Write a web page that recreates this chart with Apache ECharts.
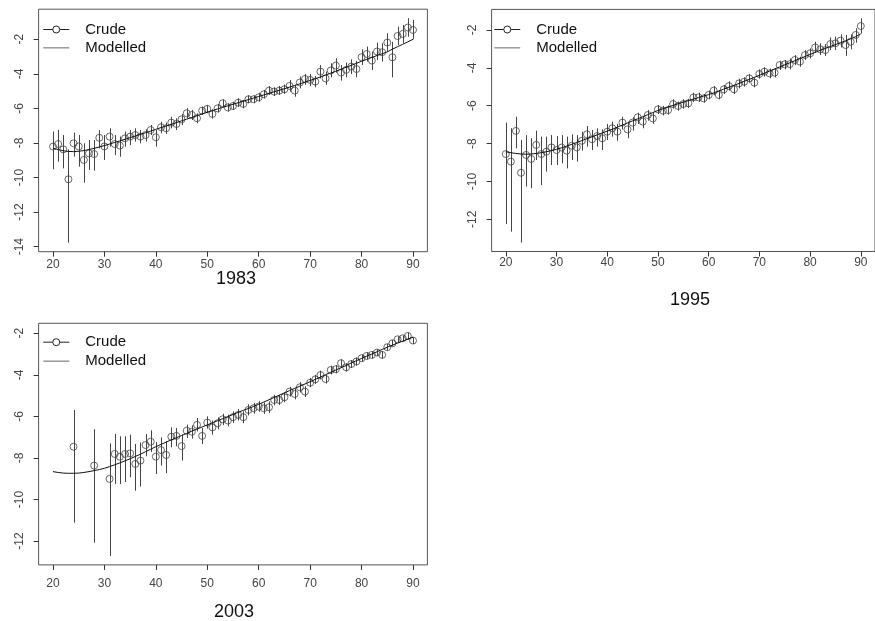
<!DOCTYPE html>
<html>
<head>
<meta charset="utf-8">
<title>Crude and modelled rates</title>
<script src="https://cdn.jsdelivr.net/npm/echarts/dist/echarts.min.js"></script>
<style>
  html, body { margin: 0; padding: 0; background: #fff; }
  #main { width: 875px; height: 621px; }
</style>
</head>
<body>
<div id="main"></div>
<script>
var ages = [20,21,22,23,24,25,26,27,28,29,30,31,32,33,34,35,36,37,38,39,40,41,42,43,44,45,46,47,48,49,
  50,51,52,53,54,55,56,57,58,59,60,61,62,63,64,65,66,67,68,69,70,71,72,73,74,75,76,77,78,79,
  80,81,82,83,84,85,86,87,88,89,90];
var xTicks = [20, 30, 40, 50, 60, 70, 80, 90];

// 1983
var crude83 = [-8.21,-8.06,-8.37,-10.1,-8.02,-8.2,-8.98,-8.6,-8.64,-7.7,
  -8.2,-7.63,-8.06,-8.15,-7.73,-7.63,-7.54,-7.63,-7.54,-7.25,
  -7.67,-7.09,-7.15,-6.82,-6.9,-6.63,-6.28,-6.38,-6.57,-6.13,
  -6.03,-6.32,-6.0,-5.7,-5.94,-5.86,-5.67,-5.74,-5.47,-5.47,
  -5.36,-5.18,-4.97,-5.03,-4.97,-4.89,-4.7,-4.97,-4.5,-4.3,
  -4.35,-4.45,-3.87,-4.26,-3.81,-3.52,-3.93,-3.77,-3.58,-3.72,
  -3.04,-2.85,-3.23,-2.71,-2.75,-2.19,-3.04,-1.81,-1.69,-1.32,
  -1.46];
var hi83 = [-7.34,-7.25,-7.54,-8.37,-7.4,-7.54,-8.02,-7.83,-7.83,-7.25,
  -7.54,-7.15,-7.54,-7.63,-7.34,-7.25,-7.15,-7.25,-7.21,-6.96,
  -7.25,-6.77,-6.82,-6.48,-6.57,-6.32,-5.99,-6.09,-6.28,-5.9,
  -5.8,-6.05,-5.74,-5.47,-5.7,-5.61,-5.41,-5.51,-5.24,-5.24,
  -5.09,-4.93,-4.7,-4.78,-4.7,-4.62,-4.35,-4.64,-4.16,-4.01,
  -4.01,-4.12,-3.49,-3.87,-3.39,-3.1,-3.49,-3.35,-3.16,-3.25,
  -2.58,-2.42,-2.71,-2.19,-2.23,-1.65,-2.14,-1.27,-1.17,-0.78,
  -0.88];
var lo83 = [-9.52,-9.08,-9.47,-13.77,-8.79,-9.37,-10.3,-9.56,-9.6,-8.31,
  -8.98,-8.21,-8.7,-8.79,-8.21,-8.12,-7.92,-8.02,-7.92,-7.54,
  -8.21,-7.44,-7.48,-7.15,-7.25,-6.96,-6.57,-6.67,-6.86,-6.38,
  -6.28,-6.59,-6.24,-5.94,-6.19,-6.09,-5.9,-5.99,-5.7,-5.7,
  -5.61,-5.43,-5.22,-5.28,-5.22,-5.16,-5.03,-5.32,-4.84,-4.64,
  -4.7,-4.78,-4.26,-4.64,-4.2,-3.93,-4.39,-4.2,-4.01,-4.2,
  -3.49,-3.29,-3.78,-3.2,-3.29,-2.71,-4.2,-2.33,-2.23,-1.85,
  -2.0];
var model83 = [-8.30,-8.38,-8.45,-8.49,-8.50,-8.48,-8.44,-8.38,-8.31,-8.23,
  -8.15,-8.06,-7.97,-7.88,-7.79,-7.69,-7.60,-7.50,-7.41,-7.31,
  -7.21,-7.11,-7.02,-6.92,-6.82,-6.72,-6.62,-6.52,-6.42,-6.32,
  -6.22,-6.13,-6.03,-5.94,-5.85,-5.76,-5.67,-5.58,-5.49,-5.40,
  -5.31,-5.22,-5.13,-5.04,-4.95,-4.86,-4.77,-4.67,-4.58,-4.48,
  -4.38,-4.28,-4.18,-4.07,-3.96,-3.85,-3.74,-3.62,-3.51,-3.39,
  -3.27,-3.16,-3.05,-2.94,-2.84,-2.73,-2.57,-2.43,-2.29,-2.15,
  -2.00];

// 1995
var crude95 = [-8.55,-8.95,-7.33,-9.54,-8.6,-8.81,-8.07,-8.55,-8.43,-8.2,
  -8.34,-8.21,-8.37,-8.11,-8.2,-7.85,-7.51,-7.77,-7.6,-7.72,
  -7.37,-7.19,-7.37,-6.89,-7.25,-6.89,-6.61,-6.84,-6.49,-6.67,
  -6.19,-6.26,-6.23,-5.91,-6.01,-5.91,-5.87,-5.56,-5.56,-5.61,
  -5.43,-5.2,-5.43,-5.13,-4.96,-5.13,-4.82,-4.73,-4.55,-4.78,
  -4.32,-4.2,-4.29,-4.25,-3.85,-3.81,-3.8,-3.58,-3.67,-3.32,
  -3.23,-2.92,-3.02,-3.06,-2.74,-2.7,-2.56,-2.79,-2.62,-2.26,
  -1.79];
var hi95 = [-6.89,-7.19,-6.58,-7.81,-7.55,-7.72,-7.32,-7.63,-7.63,-7.55,
  -7.6,-7.55,-7.63,-7.51,-7.55,-7.37,-7.07,-7.28,-7.19,-7.25,
  -6.96,-6.84,-6.96,-6.58,-6.84,-6.61,-6.37,-6.54,-6.23,-6.37,
  -5.96,-6.01,-5.98,-5.66,-5.79,-5.66,-5.63,-5.31,-5.31,-5.38,
  -5.2,-4.96,-5.17,-4.9,-4.71,-4.89,-4.57,-4.5,-4.32,-4.5,
  -4.08,-3.97,-4.04,-4.01,-3.62,-3.58,-3.5,-3.32,-3.41,-3.06,
  -2.97,-2.62,-2.7,-2.74,-2.39,-2.35,-2.23,-2.26,-2.23,-1.91,
  -1.38];
var lo95 = [-12.25,-12.65,-8.25,-13.23,-10.27,-10.36,-8.87,-10.19,-9.48,-9.13,
  -9.13,-9.04,-9.31,-8.87,-8.95,-8.37,-8.16,-8.34,-8.16,-8.34,
  -7.81,-7.63,-7.85,-7.25,-7.72,-7.32,-6.96,-7.19,-6.79,-6.96,
  -6.44,-6.51,-6.47,-6.15,-6.26,-6.15,-6.12,-5.8,-5.8,-5.84,
  -5.66,-5.45,-5.66,-5.38,-5.2,-5.38,-5.08,-4.99,-4.78,-5.03,
  -4.57,-4.46,-4.54,-4.5,-4.11,-4.08,-4.08,-3.85,-3.94,-3.58,
  -3.5,-3.2,-3.32,-3.37,-3.06,-3.06,-2.92,-3.37,-3.02,-2.67,
  -2.18];
var model95 = [-8.43,-8.48,-8.52,-8.55,-8.56,-8.55,-8.52,-8.48,-8.43,-8.37,
  -8.30,-8.22,-8.13,-8.04,-7.94,-7.84,-7.74,-7.64,-7.54,-7.44,
  -7.34,-7.24,-7.13,-7.02,-6.91,-6.80,-6.69,-6.58,-6.47,-6.36,
  -6.25,-6.16,-6.07,-5.98,-5.89,-5.81,-5.73,-5.65,-5.57,-5.49,
  -5.41,-5.32,-5.22,-5.12,-5.02,-4.92,-4.82,-4.71,-4.61,-4.50,
  -4.39,-4.28,-4.17,-4.06,-3.95,-3.84,-3.73,-3.62,-3.51,-3.40,
  -3.29,-3.18,-3.07,-2.97,-2.87,-2.77,-2.67,-2.57,-2.46,-2.35,
  -2.20];

// 2003 (no crude rate at some young ages)
var crude03 = [null,null,null,null,-7.46,null,null,null,-8.37,null,
  null,-9.01,-7.81,-7.94,-7.81,-7.78,-8.29,-8.13,-7.38,-7.22,
  -7.94,-7.62,-7.86,-6.98,-6.94,-7.43,-6.69,-6.74,-6.41,-6.94,
  -6.3,-6.53,-6.33,-6.14,-6.2,-6.04,-5.93,-6.04,-5.69,-5.61,
  -5.53,-5.61,-5.56,-5.21,-5.21,-5.08,-4.81,-4.92,-4.6,-4.81,
  -4.38,-4.22,-4.01,-4.2,-3.77,-3.73,-3.44,-3.64,-3.48,-3.36,
  -3.2,-3.09,-3.04,-2.93,-3.04,-2.67,-2.48,-2.29,-2.24,-2.13,
  -2.35];
var hi03 = [null,null,null,null,-5.69,null,null,null,-6.62,null,
  null,-7.3,-6.85,-6.96,-6.96,-6.88,-7.33,-7.26,-6.85,-6.67,
  -7.23,-7.01,-7.2,-6.53,-6.56,-6.88,-6.4,-6.43,-6.08,-6.56,
  -6.0,-6.2,-6.05,-5.87,-5.92,-5.76,-5.65,-5.76,-5.42,-5.35,
  -5.27,-5.33,-5.28,-4.96,-4.97,-4.84,-4.58,-4.65,-4.35,-4.55,
  -4.15,-4.0,-3.8,-3.98,-3.56,-3.53,-3.25,-3.44,-3.29,-3.17,
  -3.02,-2.92,-2.87,-2.77,-2.87,-2.51,-2.33,-2.15,-2.1,-1.97,
  -2.2];
var lo03 = [null,null,null,null,-11.12,null,null,null,-12.08,null,
  null,-12.72,-9.26,-9.26,-9.16,-8.93,-9.58,-9.38,-7.92,-7.72,
  -8.77,-8.37,-8.73,-7.49,-7.44,-8.13,-7.04,-7.07,-6.72,-7.33,
  -6.59,-6.88,-6.62,-6.42,-6.48,-6.32,-6.2,-6.33,-5.95,-5.87,
  -5.78,-5.88,-5.84,-5.46,-5.45,-5.32,-5.05,-5.18,-4.85,-5.07,
  -4.6,-4.44,-4.22,-4.42,-3.98,-3.93,-3.63,-3.84,-3.67,-3.55,
  -3.38,-3.26,-3.21,-3.09,-3.21,-2.83,-2.63,-2.43,-2.38,-2.29,
  -2.52];
var model03 = [-8.66,-8.70,-8.73,-8.74,-8.74,-8.73,-8.70,-8.66,-8.61,-8.56,
  -8.50,-8.42,-8.33,-8.24,-8.14,-8.04,-7.93,-7.82,-7.70,-7.58,
  -7.46,-7.35,-7.24,-7.13,-7.03,-6.92,-6.82,-6.71,-6.61,-6.51,
  -6.41,-6.31,-6.21,-6.11,-6.01,-5.91,-5.81,-5.71,-5.62,-5.52,
  -5.42,-5.31,-5.20,-5.09,-4.98,-4.87,-4.76,-4.65,-4.55,-4.44,
  -4.33,-4.22,-4.11,-3.99,-3.88,-3.77,-3.66,-3.55,-3.43,-3.32,
  -3.21,-3.10,-3.00,-2.89,-2.78,-2.67,-2.57,-2.47,-2.38,-2.28,
  -2.19];

var years = ['1983', '1995', '2003'];

var font = 'Liberation Sans, Arial, sans-serif';
// legend keys drawn like R's legend(): "-o-" and a plain line
var crudeIcon = 'path://M0 3.5 H9.5 M16.5 3.5 H26 M9.5 3.5 A3.5 3.5 0 1 1 16.5 3.5 A3.5 3.5 0 1 1 9.5 3.5';
var modelIcon = 'path://M0 0 M0 3.5 H26 M26 7';

// panel layout (px), follows the R plot regions
var panels = [
  { grid: { left: 38.6, top: 9.2, width: 388.8, height: 242.5 }, ymin: -14.29, ymax: -0.26,
    yTicks: [-14, -12, -10, -8, -6, -4, -2], xMargin: 7, legend: { left: 42.5, top: 22, gap: 3.3 },
    title: [236, 279], crude: crude83, lo: lo83, hi: hi83, model: model83 },
  { grid: { left: 491.6, top: 9.4, width: 388.8, height: 242.1 }, ymin: -13.70, ymax: -0.91,
    yTicks: [-12, -10, -8, -6, -4, -2], xMargin: 5, legend: { left: 493.5, top: 22, gap: 3.3 },
    title: [690, 300], crude: crude95, lo: lo95, hi: hi95, model: model95 },
  { grid: { left: 38.6, top: 323.3, width: 388.8, height: 241.6 }, ymin: -13.15, ymax: -1.52,
    yTicks: [-12, -10, -8, -6, -4, -2], xMargin: 13, legend: { left: 42.5, top: 334.7, gap: 4 },
    title: [234, 612], crude: crude03, lo: lo03, hi: hi03, model: model03 }
];

function toPoints(vals) {
  var out = [];
  for (var i = 0; i < ages.length; i++) {
    if (vals[i] != null) out.push([ages[i], vals[i]]);
  }
  return out;
}

function toBars(lo, hi) {
  var out = [];
  for (var i = 0; i < ages.length; i++) {
    if (lo[i] != null && hi[i] != null) out.push([ages[i], lo[i], hi[i]]);
  }
  return out;
}

function renderBar(params, api) {
  var a = api.coord([api.value(0), api.value(1)]);
  var b = api.coord([api.value(0), api.value(2)]);
  return {
    type: 'line',
    shape: { x1: Math.round(a[0]) + 0.5, y1: a[1], x2: Math.round(b[0]) + 0.5, y2: b[1] },
    style: { stroke: '#444', lineWidth: 1 }
  };
}

var grids = [], xAxes = [], yAxes = [], series = [], legends = [], graphics = [];

panels.forEach(function (p, i) {
  grids.push({
    left: p.grid.left, top: p.grid.top, width: p.grid.width, height: p.grid.height,
    show: true, borderColor: '#555', borderWidth: 1, backgroundColor: 'transparent'
  });
  xAxes.push({
    type: 'value', gridIndex: i, min: 17.2, max: 92.8,
    axisLine: { show: false },
    axisTick: { show: true, length: 5, lineStyle: { color: '#333' }, customValues: xTicks },
    axisLabel: { customValues: xTicks, margin: p.xMargin, color: '#444', fontSize: 12, fontFamily: font },
    splitLine: { show: false }
  });
  yAxes.push({
    type: 'value', gridIndex: i, min: p.ymin, max: p.ymax,
    axisLine: { show: false },
    axisTick: { show: true, length: 5, lineStyle: { color: '#333' }, customValues: p.yTicks },
    axisLabel: { customValues: p.yTicks, rotate: 90, margin: 13, color: '#444', fontSize: 12, fontFamily: font },
    splitLine: { show: false }
  });
  series.push({
    name: 'Crude', type: 'custom', xAxisIndex: i, yAxisIndex: i,
    renderItem: renderBar, encode: { x: 0, y: [1, 2] },
    data: toBars(p.lo, p.hi), z: 2, silent: true
  });
  series.push({
    name: 'Crude', type: 'scatter', xAxisIndex: i, yAxisIndex: i,
    symbol: 'circle', symbolSize: 7,
    itemStyle: { color: 'rgba(0,0,0,0)', borderColor: '#444', borderWidth: 1 },
    data: toPoints(p.crude), z: 3
  });
  series.push({
    name: 'Modelled', type: 'line', xAxisIndex: i, yAxisIndex: i,
    symbol: 'none', smooth: false,
    itemStyle: { color: '#111' },
    lineStyle: { color: '#111', width: 1 },
    data: toPoints(p.model), z: 4
  });
  legends.push({
    orient: 'vertical', left: p.legend.left, top: p.legend.top, padding: 0,
    itemWidth: 26, itemHeight: 7, itemGap: p.legend.gap,
    selectedMode: false,
    textStyle: { fontFamily: font, fontSize: 15, color: '#111', padding: [0, 0, 0, 11] },
    data: [
      { name: 'Crude', icon: crudeIcon,
        itemStyle: { color: 'rgba(0,0,0,0)', borderColor: '#222', borderWidth: 1 } },
      { name: 'Modelled', icon: modelIcon,
        itemStyle: { color: 'rgba(0,0,0,0)', borderColor: '#999', borderWidth: 1.5 } }
    ]
  });
  graphics.push({
    type: 'text', x: p.title[0], y: p.title[1],
    style: { text: years[i], font: '18px ' + font, fill: '#111', textAlign: 'center', textVerticalAlign: 'middle' }
  });
});

var option = {
  animation: false,
  backgroundColor: '#fff',
  grid: grids,
  xAxis: xAxes,
  yAxis: yAxes,
  legend: legends,
  series: series,
  graphic: graphics
};

echarts.init(document.getElementById('main')).setOption(option);
</script>
</body>
</html>
